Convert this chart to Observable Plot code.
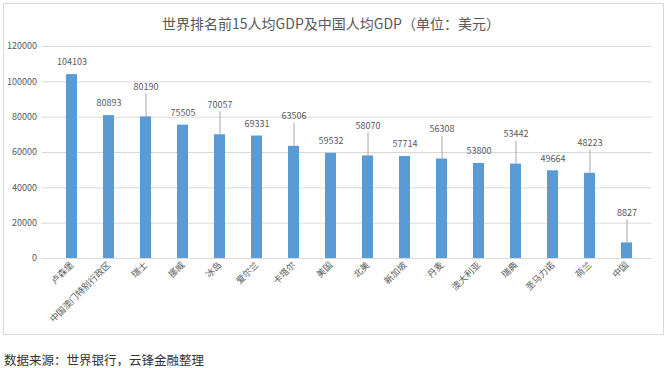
<!DOCTYPE html>
<html>
<head>
<meta charset="utf-8">
<script src="https://cdn.jsdelivr.net/npm/d3@7"></script>
<script src="https://cdn.jsdelivr.net/npm/@observablehq/plot@0.6"></script>
<style>
  html, body { margin: 0; padding: 0; background: #fff; }
  body { width: 668px; height: 368px; position: relative; overflow: hidden;
         font-family: "Noto Sans CJK SC", "Noto Sans", sans-serif; }
  #box { position: absolute; left: 3px; top: 3px; width: 661px; height: 332px;
         border: 1px solid #d9d9d9; box-sizing: border-box; }
  #title { position: absolute; left: 0; width: 662px; top: 13px; text-align: center;
           font-size: 14px; line-height: 20px; color: #595959; }
  #chart { position: absolute; left: 0; top: 0; }
  #caption { position: absolute; left: 4px; top: 351px; font-size: 12.5px;
             line-height: 18px; color: #333; }
</style>
</head>
<body>
<div id="box"></div>
<div id="chart"></div>
<div id="title">世界排名前15人均GDP及中国人均GDP（单位：美元）</div>
<div id="caption">数据来源：世界银行，云锋金融整理</div>
<script>
const countries = ["卢森堡", "中国澳门特别行政区", "瑞士", "挪威", "冰岛", "爱尔兰", "卡塔尔", "美国",
  "北美", "新加坡", "丹麦", "澳大利亚", "瑞典", "圣马力诺", "荷兰", "中国"];
const gdp = [104103, 80893, 80190, 75505, 70057, 69331, 63506, 59532,
  58070, 57714, 56308, 53800, 53442, 49664, 48223, 8827];
const leader = [false, false, true, false, true, false, true, false,
  true, false, true, false, true, false, true, true];
const yTicks = [0, 20000, 40000, 60000, 80000, 100000, 120000];

const data = countries.map((c, i) => ({country: c, gdp: gdp[i], leader: leader[i]}));
const plain = data.filter(d => !d.leader);
const called = data.filter(d => d.leader);

const font = '"Noto Sans CJK SC", "Noto Sans", sans-serif';

const chart = Plot.plot({
  width: 668,
  height: 335,
  marginTop: 46,
  marginBottom: 77,
  marginLeft: 46.6,
  marginRight: 16.6,
  style: {fontFamily: font, fontSize: "9px", color: "#595959", background: "transparent", overflow: "visible"},
  x: {domain: countries, paddingInner: 0.69, paddingOuter: 0.345, label: null},
  y: {domain: [0, 120000], label: null},
  marks: [
    Plot.ruleY(yTicks, {stroke: "#d9d9d9", strokeWidth: 1, insetLeft: -5}),
    Plot.barY(data, {x: "country", y: "gdp", fill: "#5b9bd5"}),
    Plot.ruleX(called, {x: "country", y1: "gdp", y2: "gdp", stroke: "#a6a6a6", strokeWidth: 1, insetTop: -23}),
    Plot.text(plain, {x: "country", y: "gdp", text: d => String(d.gdp), dy: -12, fill: "#595959", fontSize: 9}),
    Plot.text(called, {x: "country", y: "gdp", text: d => String(d.gdp), dy: -30, fill: "#595959", fontSize: 9}),
    Plot.axisY({ticks: yTicks, tickSize: 0, tickPadding: 10, tickFormat: d => String(d), fill: "#595959", fontSize: 9}),
    Plot.axisX({tickRotate: -45, tickSize: 0, tickPadding: 5, fill: "#595959", fontSize: 9})
  ]
});
document.getElementById("chart").appendChild(chart);
</script>
</body>
</html>
